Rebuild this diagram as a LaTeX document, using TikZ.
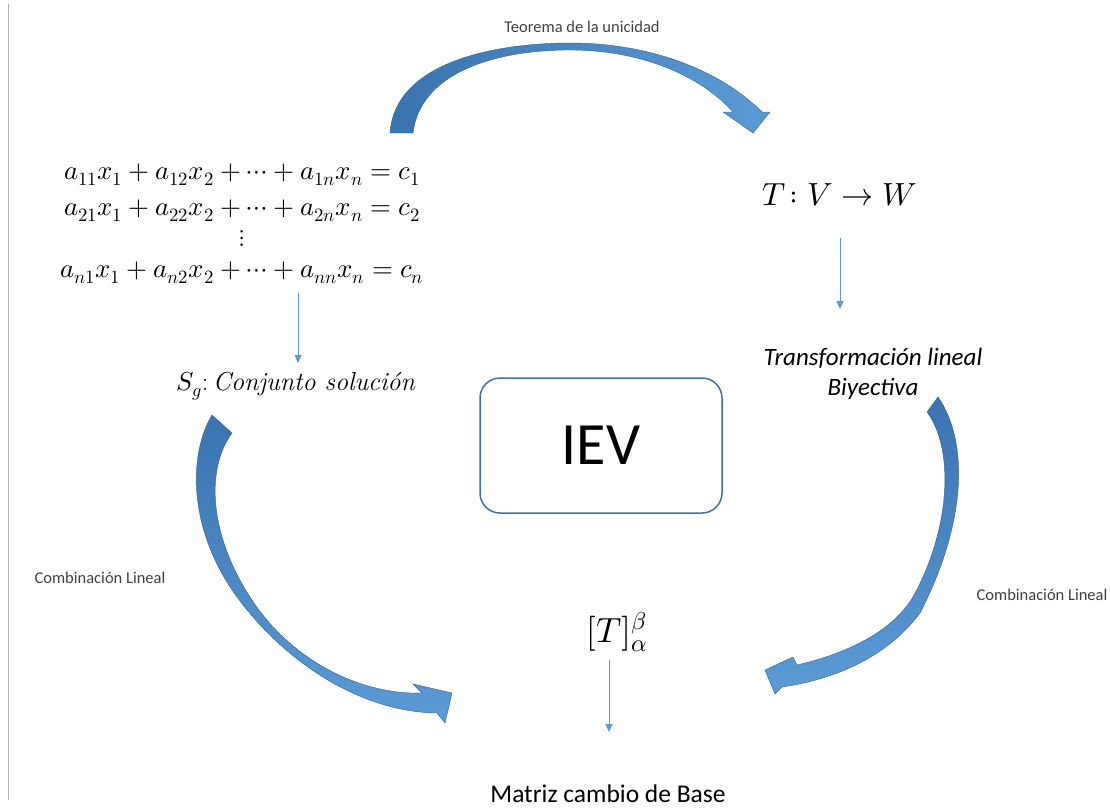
\documentclass[tikz,border=0pt]{standalone}
\usepackage{fontspec}
\usepackage{unicode-math}
\setmathfont{Latin Modern Math}
\newfontfamily\calibri{Carlito}
\usetikzlibrary{arrows.meta}
\definecolor{arrdark}{HTML}{3A74B0}
\definecolor{arrlight}{HTML}{5B9BD5}
\definecolor{thinblue}{HTML}{5B9BD5}
\definecolor{boxborder}{HTML}{41719C}
\definecolor{lbl}{HTML}{404040}
\tikzset{
  smalllbl/.style={font=\calibri\fontsize{16.5}{19}\selectfont, text=lbl, inner sep=0pt},
  eqline/.style={font=\fontsize{26.8}{30}\selectfont, inner sep=0pt, anchor=base},
  thinarrow/.style={draw=thinblue, line width=0.9pt, -{Triangle[width=7pt,length=8pt]}},
  bigarrow/.style={draw=arrdark!85!black, line width=0.4pt},
}
\begin{document}
\begin{tikzpicture}[x=1pt,y=-1pt]
\useasboundingbox (0,0) rectangle (1110,808);
% left gray rule
\draw[black!30, line width=1.5pt] (8.5,4) -- (8.5,800);

% top curved arrow
\shade[bigarrow, left color=arrdark, right color=arrlight]
 (390,133) .. controls (395,60) and (500,43) .. (570,43)
 .. controls (650,43) and (720,70) .. (762,112)
 -- (770,112) -- (753,133) -- (723,112) -- (733,112)
 .. controls (700,75) and (640,50) .. (570,50)
 .. controls (490,50) and (420,75) .. (413,133) -- cycle;

% left curved arrow
\shade[bigarrow, top color=arrdark, bottom color=arrlight]
 (212,415) .. controls (188,455) and (188,530) .. (237,597)
 .. controls (285,662) and (360,712) .. (437,713)
 -- (445,723) -- (452,693) -- (413,684) -- (422,693)
 .. controls (360,695) and (290,660) .. (250,597)
 .. controls (210,535) and (205,470) .. (232,433) -- cycle;

% right curved arrow
\shade[bigarrow, top color=arrdark, bottom color=arrlight]
 (938,397) .. controls (968,440) and (968,520) .. (920,613)
 .. controls (885,660) and (830,680) .. (782,687)
 -- (775,694) -- (765,670) -- (793,657) -- (797,665)
 .. controls (840,655) and (890,635) .. (913,597)
 .. controls (950,530) and (955,450) .. (927,412) -- cycle;

% labels
\node[smalllbl] (teo) at (582,27) {Teorema de la unicidad};
\node[smalllbl] (combL) at (100,578) {Combinación Lineal};
\node[smalllbl] (combR) at (1042,595) {Combinación Lineal};

% system of equations
\node[eqline] (eq1) at (242,179) {$a_{11}x_1 + a_{12}x_2 + \cdots + a_{1n}x_n = c_1$};
\node[eqline] (eq2) at (242,215) {$a_{21}x_1 + a_{22}x_2 + \cdots + a_{2n}x_n = c_2$};
\node[font=\fontsize{24}{28}\selectfont, inner sep=0pt] (eqd) at (242,238) {$\vdots$};
\node[eqline] (eqn) at (242,277) {$a_{n1}x_1 + a_{n2}x_2 + \cdots + a_{nn}x_n = c_n$};

\node[font=\fontsize{26}{30}\selectfont, inner sep=0pt, anchor=base] (sg) at (296,390) {$S_g$:\,\textit{Conjunto solución}};

\node[font=\fontsize{32}{38}\selectfont, inner sep=0pt, anchor=base] (tvw) at (840,205) {$T\!:V \to W$};

\node[font=\calibri\itshape\fontsize{25}{30}\selectfont, inner sep=0pt, align=center, anchor=base] (tl) at (873,395) {Transformación lineal\\Biyectiva};

\node[draw=boxborder, line width=1.5pt, rounded corners=20pt, minimum width=242pt, minimum height=135pt, font=\calibri\fontsize{60}{70}\selectfont] (iev) at (601,445.5) {IEV};

\node[font=\fontsize{35}{40}\selectfont, inner sep=0pt] (tm) at (617,632) {$[T]_\alpha^\beta$};

\node[font=\calibri\fontsize{25.5}{30}\selectfont, inner sep=0pt] (mcb) at (608,794) {Matriz cambio de Base};

% thin arrows
\coordinate (a1s) at (298,293);
\coordinate (a1e) at (298,363);
\draw[thinarrow] (a1s) -- (a1e);
\coordinate (a2s) at (840,238);
\coordinate (a2e) at (840,309);
\draw[thinarrow] (a2s) -- (a2e);
\coordinate (a3s) at (609,660);
\coordinate (a3e) at (609,732);
\draw[thinarrow] (a3s) -- (a3e);
\end{tikzpicture}
\end{document}
